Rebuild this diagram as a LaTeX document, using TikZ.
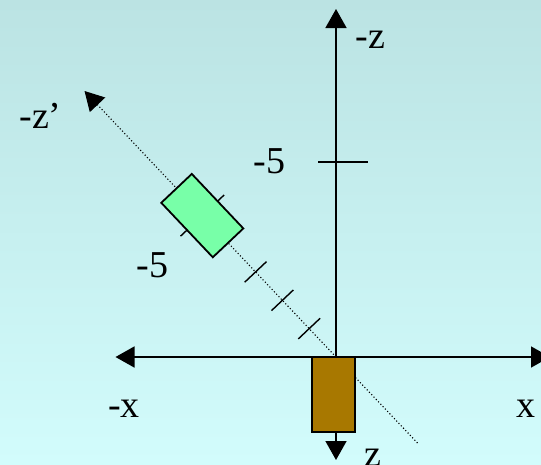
\documentclass[tikz,border=0pt]{standalone}
\usepackage{fontspec}
\setmainfont{Liberation Serif}
\usetikzlibrary{arrows.meta}
\definecolor{bgtop}{RGB}{187,227,227}
\definecolor{bgbot}{RGB}{210,252,252}
\definecolor{camgreen}{RGB}{120,255,168}
\definecolor{cambrown}{RGB}{168,120,0}
\begin{document}
\begin{tikzpicture}[x=1pt,y=-1pt,
  tip/.style={-{Triangle[length=19pt,width=21pt]}},
  bothtip/.style={{Triangle[length=19pt,width=21pt]}-{Triangle[length=19pt,width=21pt]}},
  axisline/.style={line width=1.6pt},
  tickmark/.style={line width=1.4pt},
  dotline/.style={line width=1.1pt, dash pattern=on 1.1pt off 2.2pt},
  cam/.style={draw, line width=1.8pt, inner sep=0pt},
  lbl/.style={inner sep=0pt, anchor=base, font=\fontsize{38}{40}\selectfont}]
\useasboundingbox (0,0) rectangle (541,464);
\clip (0,0) rectangle (541,464);
\shade[top color=bgtop, bottom color=bgbot] (0,0) rectangle (541,464);
% coordinates
\coordinate (O) at (336,357);
\coordinate (zt) at (336,9);
\coordinate (zb) at (336,460);
\coordinate (xl) at (115.5,357);
\coordinate (xr) at (550,357);
\coordinate (zp) at (84.5,91);
\coordinate (zq) at (417.5,443);
\coordinate (t1a) at (320.1,318.3); \coordinate (t1b) at (298.3,338.9);
\coordinate (t2a) at (293.3,290.0); \coordinate (t2b) at (271.5,310.6);
\coordinate (t3a) at (266.5,261.6); \coordinate (t3b) at (244.7,282.2);
\coordinate (t5a) at (224.1,195.0); \coordinate (t5b) at (180.5,236.2);
\coordinate (va) at (318,162); \coordinate (vb) at (368,162);
% dotted rotated axis
\draw[dotline] (zq) -- (O);
\draw[dotline, tip] (O) -- (zp);
\draw[tickmark] (t1a) -- (t1b);
\draw[tickmark] (t2a) -- (t2b);
\draw[tickmark] (t3a) -- (t3b);
\draw[tickmark] (t5a) -- (t5b);
% green camera
\node[cam, fill=camgreen, minimum width=75pt, minimum height=42pt, rotate=-46.6] (green) at (202.3,215.6) {};
% axes
\draw[axisline, bothtip] (zb) -- (zt);
\draw[axisline, bothtip] (xl) -- (xr);
\draw[axisline] (va) -- (vb);
% brown camera
\node[cam, fill=cambrown, minimum width=43.4pt, minimum height=75pt] (brown) at (333.3,394.7) {};
% labels
\node[lbl] (lmz) at (370.5,48) {-z};
\node[lbl] (l5a) at (269.7,173) {-5};
\node[lbl] (lmzp) at (40.5,128) {-z’};
\node[lbl] (l5b) at (152.5,277) {-5};
\node[lbl] (lmx) at (124,417) {-x};
\node[lbl] (lx) at (525.5,417) {x};
\node[lbl] (lz) at (372.5,466) {z};
\end{tikzpicture}
\end{document}
